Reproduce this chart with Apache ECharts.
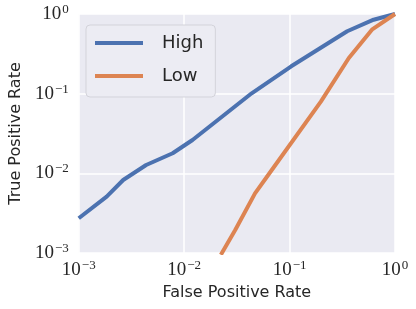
<!DOCTYPE html>
<html>
<head>
<meta charset="utf-8">
<script src="https://cdn.jsdelivr.net/npm/echarts@6/dist/echarts.min.js"></script>
<style>html,body{margin:0;padding:0;background:#fff}#c{width:416px;height:309px}</style>
</head>
<body>
<div id="c"></div>
<script>
var seriesNames = ['High', 'Low'];
var highFPR = [0.001, 0.00184, 0.00264, 0.00436, 0.00778, 0.0120, 0.0437, 0.1037, 0.352, 0.627, 1.0];
var highTPR = [0.00273, 0.00509, 0.00825, 0.01273, 0.01785, 0.0262, 0.1011, 0.2206, 0.607, 0.848, 1.0];
var lowFPR = [0.0223, 0.0305, 0.047, 0.0627, 0.198, 0.365, 0.604, 1.0];
var lowTPR = [0.00095, 0.00194, 0.00561, 0.00953, 0.0793, 0.2805, 0.635, 1.0];
var xAxisTitle = 'False Positive Rate';
var yAxisTitle = 'True Positive Rate';
var colors = ['#4C72B0', '#DD8452'];

function pairs(xs, ys) { return xs.map(function (x, i) { return [x, ys[i]]; }); }
function powLabel(v) {
  var e = Math.round(Math.log10(v));
  var s = e < 0 ? '\u2212' + (-e) : String(e);
  return '{b|10}{s|' + s + '}';
}
var rich = {
  b: { fontFamily: 'Liberation Serif', fontSize: 19, color: '#262626', lineHeight: 22 },
  s: { fontFamily: 'Liberation Serif', fontSize: 13, color: '#262626', verticalAlign: 'top', lineHeight: 13, padding: [0, 0, 0, 1] }
};
var chart = echarts.init(document.getElementById('c'), null, { renderer: 'canvas' });
chart.setOption({
  animation: false,
  backgroundColor: '#ffffff',
  grid: { left: 75, top: 14, right: 21, bottom: 56, show: true, backgroundColor: '#EAEAF2', borderWidth: 0 },
  xAxis: {
    type: 'log', logBase: 10, min: 0.001, max: 1,
    axisLine: { show: false }, axisTick: { show: false },
    splitLine: { show: true, lineStyle: { color: '#ffffff', width: 1.5 } },
    axisLabel: { formatter: powLabel, rich: rich, margin: 6, showMinLabel: true, showMaxLabel: true },
    name: xAxisTitle, nameLocation: 'middle', nameGap: 30,
    nameTextStyle: { fontFamily: 'DejaVu Sans', fontSize: 16, color: '#262626' }
  },
  yAxis: {
    type: 'log', logBase: 10, min: 0.001, max: 1,
    axisLine: { show: false }, axisTick: { show: false },
    splitLine: { show: true, lineStyle: { color: '#ffffff', width: 1.5 } },
    axisLabel: { formatter: powLabel, rich: rich, margin: 10, showMinLabel: true, showMaxLabel: true },
    name: yAxisTitle, nameLocation: 'middle', nameGap: 52,
    nameTextStyle: { fontFamily: 'DejaVu Sans', fontSize: 16, color: '#262626' }
  },
  legend: {
    orient: 'vertical', left: 86, top: 25,
    data: seriesNames,
    icon: 'rect', itemWidth: 48, itemHeight: 4, itemGap: 11,
    padding: [7, 12, 10, 9],
    backgroundColor: '#ECECF3', borderColor: '#D3D3DA', borderWidth: 1, borderRadius: 4,
    textStyle: { fontFamily: 'DejaVu Sans', fontSize: 18, color: '#262626', lineHeight: 22, padding: [0, 0, 0, 14] }
  },
  series: [
    { name: seriesNames[0], type: 'line', data: pairs(highFPR, highTPR), showSymbol: false, symbol: 'none',
      lineStyle: { color: colors[0], width: 4 }, itemStyle: { color: colors[0] } },
    { name: seriesNames[1], type: 'line', data: pairs(lowFPR, lowTPR), showSymbol: false, symbol: 'none',
      lineStyle: { color: colors[1], width: 4 }, itemStyle: { color: colors[1] } }
  ]
});
</script>
</body>
</html>
